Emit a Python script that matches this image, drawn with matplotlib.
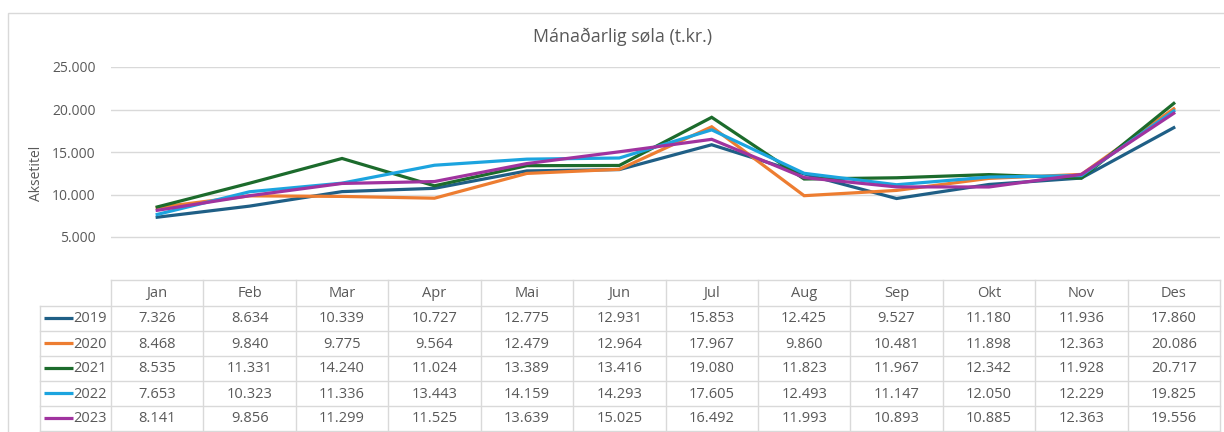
import matplotlib
matplotlib.use("Agg")
import matplotlib.pyplot as plt
from matplotlib.patches import Rectangle

months = ["Jan", "Feb", "Mar", "Apr", "Mai", "Jun", "Jul", "Aug", "Sep", "Okt", "Nov", "Des"]
years = ["2019", "2020", "2021", "2022", "2023"]
s2019 = [7326, 8634, 10339, 10727, 12775, 12931, 15853, 12425, 9527, 11180, 11936, 17860]
s2020 = [8468, 9840, 9775, 9564, 12479, 12964, 17967, 9860, 10481, 11898, 12363, 20086]
s2021 = [8535, 11331, 14240, 11024, 13389, 13416, 19080, 11823, 11967, 12342, 11928, 20717]
s2022 = [7653, 10323, 11336, 13443, 14159, 14293, 17605, 12493, 11147, 12050, 12229, 19825]
s2023 = [8141, 9856, 11299, 11525, 13639, 15025, 16492, 11993, 10893, 10885, 12363, 19556]
series = [s2019, s2020, s2021, s2022, s2023]
colors = ["#1f5f86", "#ed7d31", "#1c6b2c", "#1ca4df", "#a0339f"]
yticks = [5000, 10000, 15000, 20000, 25000]

plt.rcParams['font.family'] = ['Open Sans', 'DejaVu Sans']
TXT = "#595959"
GRID = "#d9d9d9"

W, H = 1224, 432
fig = plt.figure(figsize=(W / 100, H / 100), dpi=100)

def fx(px):
    return px / W

def fy(py):
    return 1 - py / H

# outer chart border
fig.patches.append(Rectangle((fx(8), fy(440)), fx(1230) - fx(8), fy(13) - fy(440),
                             transform=fig.transFigure, fill=False, edgecolor=GRID, lw=1))

x0, x1 = 111, 1220
ytop, ybot = 67, 279.5
ax = fig.add_axes([fx(x0), fy(ybot), fx(x1) - fx(x0), fy(ytop) - fy(ybot)])
xs = list(range(len(months)))
for s, c in zip(series, colors):
    ax.plot(xs, s, color=c, lw=2.3, solid_joinstyle='miter', zorder=3)
ax.set_xlim(-0.5, len(months) - 0.5)
ax.set_ylim(0, 25000)
ax.set_yticks(yticks)
ax.set_yticklabels([f"{v:,}".replace(",", ".") for v in yticks], color=TXT, fontsize=10)
ax.tick_params(axis='y', length=0, pad=11)
ax.set_xticks([])
for sp in ax.spines.values():
    sp.set_visible(False)
ax.grid(axis='y', color=GRID, lw=1)
ax.set_axisbelow(True)
ax.set_ylabel("Aksetitel", color=TXT, fontsize=10)
ax.yaxis.set_label_coords((44 - x0) / (x1 - x0), 0.5)

fig.text(fx(623), fy(37), "Mánaðarlig søla (t.kr.)", ha='center', va='center', color=TXT, fontsize=12.8)

# data table
col_w = (x1 - x0) / len(months)
leg_left = 40
tab = fig.add_axes([fx(leg_left), 0, fx(x1) - fx(leg_left), fy(ybot)])
left_data = -0.5 - (x0 - leg_left) / col_w
tab.set_xlim(left_data, len(months) - 0.5)
tab.set_ylim(432 - ybot, 0)
tab.axis('off')
header_h = 26
row_h = 25
rows_top = [header_h + i * row_h for i in range(len(years))]
lw = 1
tab.plot([-0.5, len(months) - 0.5], [0, 0], color=GRID, lw=lw, clip_on=False)
for i in range(len(years) + 1):
    yy = header_h + i * row_h
    tab.plot([left_data, len(months) - 0.5], [yy, yy], color=GRID, lw=lw, clip_on=False)
for j in range(len(months) + 1):
    xx = j - 0.5
    tab.plot([xx, xx], [0, header_h + len(years) * row_h + 5], color=GRID, lw=lw, clip_on=False)
tab.plot([left_data, left_data], [header_h, header_h + len(years) * row_h + 5], color=GRID, lw=lw, clip_on=False)

for j, m in enumerate(months):
    tab.text(j, header_h / 2 + 1, m, ha='center', va='center', color=TXT, fontsize=10.5)
for i, (yname, s, c) in enumerate(zip(years, series, colors)):
    yc = rows_top[i] + row_h / 2 + 1
    lx0 = left_data + 4 / col_w
    lx1 = left_data + 33 / col_w
    tab.plot([lx0, lx1], [yc - 1, yc - 1], color=c, lw=2.3, solid_capstyle='butt', clip_on=False)
    tab.text(lx1, yc, yname, ha='left', va='center', color=TXT, fontsize=10.5)
    for j, v in enumerate(s):
        tab.text(j, yc, f"{v:,}".replace(",", "."), ha='center', va='center', color=TXT, fontsize=10.5)

fig.savefig("out.png", dpi=100)
